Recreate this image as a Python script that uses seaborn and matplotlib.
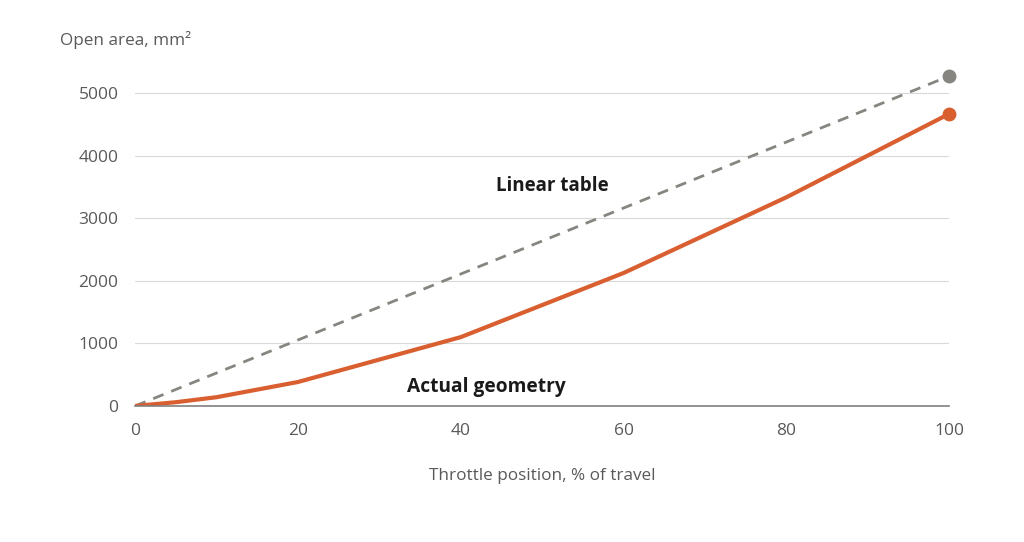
import matplotlib
matplotlib.use("Agg")
import matplotlib.pyplot as plt
import seaborn as sns
import pandas as pd

throttle = [0, 5, 10, 20, 40, 60, 80, 100]
actual_area = [0, 60, 140, 383, 1100, 2125, 3335, 4668]
linear_x = [0, 100]
linear_area = [0, 5272]

orange = "#d95f30"
grey = "#87857f"

sns.set_theme(style="white")
plt.rcParams['font.family'] = ['Open Sans', 'DejaVu Sans']

fig = plt.figure(figsize=(10.24, 5.42), dpi=100)
ax = fig.add_axes([0.132, 0.251, 0.795, 0.6235])

actual = pd.DataFrame({"x": throttle, "y": actual_area})
linear = pd.DataFrame({"x": linear_x, "y": linear_area})

sns.lineplot(data=linear, x="x", y="y", ax=ax, color=grey, lw=2, linestyle=(0, (4, 3)))
sns.lineplot(data=actual, x="x", y="y", ax=ax, color=orange, lw=3)
ax.plot(linear_x[-1], linear_area[-1], "o", color=grey, ms=9, clip_on=False, zorder=5)
ax.plot(throttle[-1], actual_area[-1], "o", color=orange, ms=9, clip_on=False, zorder=5)

ax.set_xlim(0, 100)
ax.set_ylim(0, 5400)
ax.set_xticks([0, 20, 40, 60, 80, 100])
ax.set_yticks([0, 1000, 2000, 3000, 4000, 5000])
ax.yaxis.grid(True, color="#d9d9d9", lw=0.8)
ax.set_axisbelow(True)
for s in ["left", "right", "top"]:
    ax.spines[s].set_visible(False)
ax.spines["bottom"].set_color("#808080")
ax.spines["bottom"].set_linewidth(1.2)
ax.tick_params(axis="both", labelsize=12.5, colors="#595959", length=0, pad=12)
ax.set_xlabel("")
ax.set_ylabel("")

ax.text(51.2, 3514, "Linear table", ha="center", va="center", fontsize=13.5, fontweight="bold", color="#1a1a1a")
ax.text(43.1, 303, "Actual geometry", ha="center", va="center", fontsize=13.8, fontweight="bold", color="#1a1a1a")

fig.text(60 / 1024, 1 - 40 / 542, "Open area, mm²", ha="left", va="center", fontsize=12.3, color="#595959")
fig.text(542 / 1024, 1 - 476 / 542, "Throttle position, % of travel", ha="center", va="center", fontsize=12.3, color="#595959")

fig.savefig("out.png", dpi=100)
